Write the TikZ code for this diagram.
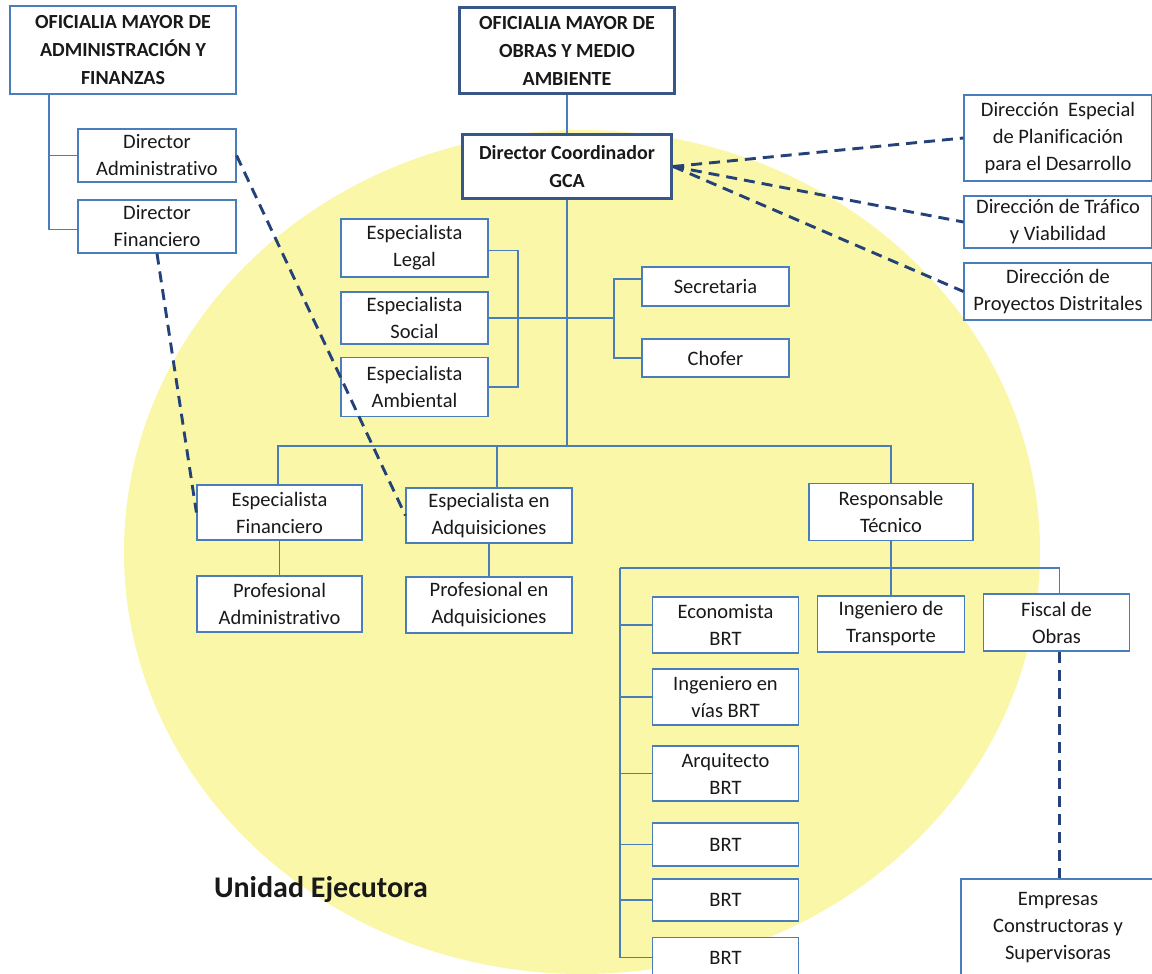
\documentclass[tikz,border=0pt]{standalone}
\usepackage{fontspec}
\setmainfont{Carlito}[Ligatures=NoCommon]
\definecolor{lineblue}{RGB}{74,126,187}
\definecolor{boxdark}{RGB}{56,87,135}
\definecolor{dashblue}{RGB}{36,66,120}
\definecolor{sun}{RGB}{251,247,168}
\definecolor{ink}{RGB}{25,25,25}
\begin{document}
\begin{tikzpicture}[x=1pt,y=-1pt,
  box/.style={draw=lineblue, line width=1.2pt, fill=white, inner sep=0pt, align=center, text=ink, font=\fontsize{20.5}{27}\selectfont},
  headbox/.style={draw=boxdark, line width=3.4pt, fill=white, inner sep=0pt, align=center, text=ink, font=\bfseries\fontsize{20}{28}\selectfont},
  titlebox/.style={draw=lineblue, line width=1.2pt, fill=white, inner sep=0pt, align=center, text=ink, font=\bfseries\fontsize{20}{28}\selectfont},
  conn/.style={draw=lineblue, line width=1.2pt},
  dconn/.style={draw=dashblue, line width=2.9pt, dash pattern=on 11pt off 7pt},
]
\useasboundingbox (0,0) rectangle (1152,974);
\clip (0,0) rectangle (1152,974);
\fill[white] (0,0) rectangle (1152,974);
\fill[sun] (582,552) ellipse [x radius=458, y radius=422];

% top level
\node[titlebox, minimum width=226pt, minimum height=88pt] (oma) at (123,50) {OFICIALIA MAYOR DE\\ADMINISTRACIÓN Y\\FINANZAS};
\node[headbox, minimum width=215pt, minimum height=86pt] (omo) at (567,50.5) {OFICIALIA MAYOR DE\\OBRAS Y MEDIO\\AMBIENTE};
\node[headbox, minimum width=209pt, minimum height=64pt] (dc) at (567,166.5) {Director Coordinador\\GCA};

\node[box, minimum width=158pt, minimum height=53pt] (dadm) at (157,155.5) {Director\\Administrativo};
\node[box, minimum width=158pt, minimum height=53pt] (dfin) at (157,226.5) {Director\\Financiero};

\node[box, minimum width=188pt, minimum height=86pt] (dep) at (1058,138) {Dirección~ Especial\\de Planificación\\para el Desarrollo};
\node[box, minimum width=188pt, minimum height=52pt] (dtv) at (1058,222) {Dirección de Tráfico\\y Viabilidad};
\node[box, minimum width=188pt, minimum height=57pt] (dpd) at (1058,291.5) {Dirección de\\Proyectos Distritales};

% staff
\node[box, minimum width=147pt, minimum height=58pt] (eleg) at (414.5,248) {Especialista\\Legal};
\node[box, minimum width=147pt, minimum height=52pt] (esoc) at (414.5,318) {Especialista\\Social};
\node[box, minimum width=147pt, minimum height=59pt] (eamb) at (414.5,387) {Especialista\\Ambiental};
\node[box, minimum width=147pt, minimum height=39pt] (secr) at (715.5,286.5) {Secretaria};
\node[box, minimum width=147pt, minimum height=38pt] (chof) at (715.5,358) {Chofer};

% second level
\node[box, minimum width=165pt, minimum height=55pt] (efin) at (279.5,512.5) {Especialista\\Financiero};
\node[box, minimum width=166pt, minimum height=55pt] (eadq) at (489,515.5) {Especialista en\\Adquisiciones};
\node[box, minimum width=164pt, minimum height=57pt] (resp) at (891,512) {Responsable\\Técnico};
\node[box, minimum width=165pt, minimum height=56pt] (padm) at (279.5,604) {Profesional\\Administrativo};
\node[box, minimum width=166pt, minimum height=56pt] (padq) at (489,605) {Profesional en\\Adquisiciones};

% technical
\node[box, minimum width=146pt, minimum height=56pt] (econ) at (725.5,625) {Economista\\BRT};
\node[box, minimum width=147pt, minimum height=56pt] (ingt) at (891,624) {Ingeniero de\\Transporte};
\node[box, minimum width=146pt, minimum height=57pt] (fisc) at (1056.5,622.5) {Fiscal de\\Obras};
\node[box, minimum width=146pt, minimum height=56pt] (ingv) at (725.5,697) {Ingeniero en\\vías BRT};
\node[box, minimum width=146pt, minimum height=55pt] (arq) at (725.5,773.5) {Arquitecto\\BRT};
\node[box, minimum width=146pt, minimum height=43pt] (brta) at (725.5,844.5) {BRT};
\node[box, minimum width=146pt, minimum height=42pt] (brtb) at (725.5,900) {BRT};
\node[box, minimum width=146pt, minimum height=40pt, anchor=north] (brtc) at (725.5,937) {BRT};
\node[box, minimum width=194pt, minimum height=98pt] (emp) at (1058,928) {Empresas\\Constructoras y\\Supervisoras};

\node[inner sep=0pt, text=ink, font=\bfseries\fontsize{30}{36}\selectfont] (ue) at (321,890) {Unidad Ejecutora};

% coordinates
\coordinate (omaL) at (49,0);
\coordinate (bus) at (567,446);
\coordinate (brk) at (518,0);
\coordinate (sbk) at (614,0);
\coordinate (tl) at (620,568);

% solid connectors
\draw[conn] (oma.south -| omaL) |- (dadm.west);
\draw[conn] (oma.south -| omaL) |- ([yshift=-3pt]dfin.west);
\draw[conn] (omo) -- (dc);
\draw[conn] (dc.south) -- (dc.south |- bus);
\draw[conn] ([xshift=-1.5pt]efin.north) |- (resp.north |- bus) -- (resp.north);
\draw[conn] ([xshift=8pt]eadq.north) -- ([xshift=8pt]eadq.north |- bus);
\draw[conn] ([yshift=-2.5pt]eleg.east) -| (brk |- eamb.east) -- (eamb.east);
\draw[conn] (esoc.east) -- (esoc.east -| sbk);
\draw[conn] ([yshift=7.5pt]secr.west) -| (sbk |- chof.west) -- (chof.west);
\draw[conn] (efin) -- (padm);
\draw[conn] (eadq) -- (padq);
\draw[conn] (resp.south) -- (resp.south |- ingt.north);
\draw[conn] (tl) -| ([xshift=3pt]fisc.north);
\draw[conn] (tl) -- (tl |- brtc.west);
\foreach \n in {econ,ingv,arq,brta,brtb,brtc}
  \draw[conn] (tl |- \n.west) -- (\n.west);

% dashed connectors
\draw[dconn] (dc.east) -- (dep.west);
\draw[dconn] (dc.east) -- (dtv.west);
\draw[dconn] (dc.east) -- (dpd.west);
\draw[dconn] (dadm.east) -- (eadq.west);
\draw[dconn] (dfin.south) -- (efin.west);
\draw[dconn] ([xshift=3pt]fisc.south) -- ([xshift=3pt]fisc.south |- emp.north);
\end{tikzpicture}
\end{document}
